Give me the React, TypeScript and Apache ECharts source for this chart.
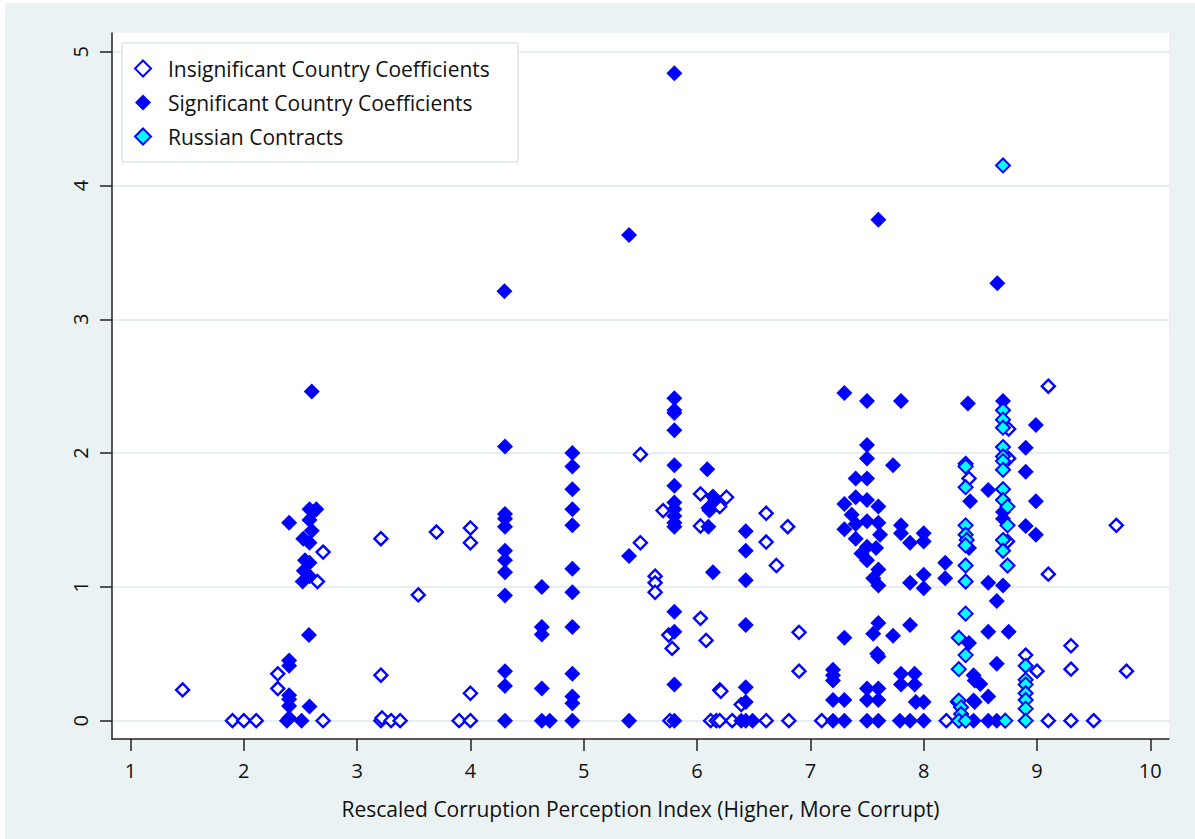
import React, { useEffect, useRef } from "react";
import * as echarts from "echarts";

const xTicks = [1, 2, 3, 4, 5, 6, 7, 8, 9, 10];
const yTicks = [0, 1, 2, 3, 4, 5];

const xTitle = "Rescaled Corruption Perception Index (Higher, More Corrupt)";
const seriesNames = [
  "Insignificant Country Coefficients",
  "Significant Country Coefficients",
  "Russian Contracts",
];

const insignificantPoints = [
  [1.46, 0.23], [1.9, 0], [2.0, 0], [2.11, 0], [2.3, 0.35], [2.3, 0.24], [2.7, 1.26], [2.65, 1.04], [2.7, 0],
  [3.21, 1.36], [3.21, 0.34], [3.21, 0], [3.22, 0.02], [3.3, 0], [3.38, 0], [3.54, 0.94], [3.7, 1.41],
  [4.0, 1.44], [4.0, 1.33], [4.0, 0.205], [3.9, 0], [4.0, 0],
  [5.5, 1.99], [5.5, 1.33], [5.63, 1.08], [5.63, 1.03], [5.63, 0.96], [5.7, 1.57], [5.75, 0.64], [5.78, 0.54], [5.76, 0],
  [6.03, 1.695], [6.26, 1.67], [6.2, 1.6], [6.03, 1.455], [6.03, 0.765], [6.08, 0.6], [6.2, 0.23], [6.21, 0.22],
  [6.39, 0.12], [6.61, 1.55], [6.61, 1.335], [6.8, 1.45], [6.7, 1.16], [6.9, 0.66], [6.9, 0.37],
  [6.12, 0], [6.17, 0], [6.2, 0], [6.31, 0], [6.61, 0], [6.81, 0], [7.1, 0],
  [8.4, 1.81], [8.2, 0], [8.3, 0.14], [8.75, 2.18], [8.75, 1.96], [8.74, 1.34], [9.1, 2.5], [9.1, 1.095],
  [9.7, 1.46], [9.3, 0.56], [8.9, 0.49], [9.0, 0.37], [9.3, 0.385], [9.79, 0.37], [9.1, 0], [9.3, 0], [9.5, 0],
];

const significantPoints = [
  [2.4, 1.48], [2.4, 0.45], [2.4, 0.41], [2.4, 0.19], [2.4, 0.16], [2.4, 0.11], [2.38, 0], [2.4, 0.02],
  [2.6, 2.46], [2.58, 1.58], [2.64, 1.58], [2.61, 1.56], [2.58, 1.5], [2.6, 1.42], [2.525, 1.36], [2.58, 1.33],
  [2.54, 1.2], [2.58, 1.18], [2.53, 1.12], [2.58, 1.08], [2.52, 1.04], [2.575, 0.64], [2.58, 0.105], [2.51, 0],
  [4.3, 3.21], [4.305, 2.05], [4.305, 1.545], [4.305, 1.51], [4.305, 1.45], [4.305, 1.27], [4.305, 1.2],
  [4.305, 1.11], [4.305, 0.935], [4.305, 0.37], [4.305, 0.26], [4.305, 0],
  [4.63, 1.0], [4.63, 0.7], [4.63, 0.645], [4.63, 0.24], [4.63, 0], [4.7, 0],
  [4.9, 2.0], [4.9, 1.9], [4.9, 1.73], [4.9, 1.58], [4.9, 1.46], [4.9, 1.135], [4.9, 0.96], [4.9, 0.7],
  [4.9, 0.35], [4.9, 0.18], [4.9, 0.13], [4.9, 0],
  [5.4, 3.63], [5.4, 1.23], [5.4, 0],
  [5.8, 4.84], [5.8, 2.41], [5.8, 2.32], [5.8, 2.3], [5.8, 2.17], [5.8, 1.91], [5.8, 1.755], [5.8, 1.63],
  [5.8, 1.58], [5.8, 1.53], [5.8, 1.48], [5.8, 1.45], [5.8, 0.815], [5.8, 0.665], [5.8, 0.27], [5.8, 0],
  [6.09, 1.88], [6.14, 1.675], [6.16, 1.65], [6.1, 1.59], [6.11, 1.57], [6.1, 1.45], [6.14, 1.11],
  [6.43, 1.415], [6.43, 1.27], [6.43, 1.05], [6.43, 0.715], [6.43, 0.25], [6.43, 0.14], [6.39, 0], [6.43, 0], [6.49, 0],
  [7.2, 0.38], [7.2, 0.34], [7.2, 0.3], [7.2, 0.155], [7.2, 0], [7.3, 0],
  [7.3, 2.45], [7.3, 1.62], [7.3, 1.43], [7.3, 0.62], [7.3, 0.155],
  [7.4, 1.81], [7.4, 1.67], [7.365, 1.54], [7.4, 1.47], [7.4, 1.36], [7.45, 1.25],
  [7.5, 2.39], [7.5, 2.06], [7.5, 1.96], [7.5, 1.81], [7.5, 1.65], [7.5, 1.49], [7.5, 1.3], [7.5, 1.2],
  [7.5, 0.24], [7.5, 0.155], [7.5, 0],
  [7.6, 3.745], [7.6, 1.6], [7.6, 1.48], [7.615, 1.39], [7.58, 1.29], [7.6, 1.13], [7.555, 1.065], [7.6, 1.01],
  [7.6, 0.73], [7.555, 0.65], [7.59, 0.5], [7.6, 0.48], [7.6, 0.24], [7.6, 0.155], [7.6, 0],
  [7.73, 1.91], [7.73, 0.635], [7.8, 2.39], [7.8, 1.46], [7.8, 1.4], [7.8, 0.35], [7.8, 0.27], [7.79, 0],
  [7.88, 1.33], [7.88, 1.03], [7.88, 0.715], [7.92, 0.35], [7.92, 0.27], [7.93, 0.14], [7.88, 0],
  [8.0, 1.4], [8.0, 1.34], [8.0, 1.09], [8.0, 0.99], [8.0, 0.14], [8.0, 0],
  [8.19, 1.18], [8.19, 1.065],
  [8.39, 2.37], [8.41, 1.64], [8.4, 1.29], [8.4, 0.58], [8.44, 0.34], [8.44, 0.15], [8.45, 0.3], [8.5, 0.275],
  [8.45, 0.14], [8.44, 0],
  [8.57, 1.725], [8.57, 1.03], [8.57, 0.665], [8.57, 0.18], [8.57, 0], [8.645, 0.895], [8.645, 0.425],
  [8.65, 3.27], [8.645, 0],
  [8.7, 2.39], [8.7, 1.56], [8.7, 1.51], [8.7, 1.01], [8.75, 0.665],
  [8.99, 2.21], [8.9, 2.04], [8.9, 1.86], [8.99, 1.64], [8.9, 1.455], [8.99, 1.39],
];

const russianPoints = [
  [8.7, 4.15], [8.37, 1.92], [8.37, 1.9], [8.37, 1.745], [8.37, 1.46], [8.37, 1.39], [8.38, 1.35], [8.37, 1.31],
  [8.37, 1.16], [8.37, 1.04], [8.37, 0.8], [8.31, 0.62], [8.37, 0.49], [8.31, 0.385], [8.31, 0.15], [8.33, 0.1],
  [8.33, 0.05], [8.31, 0], [8.37, 0],
  [8.7, 2.32], [8.7, 2.25], [8.7, 2.19], [8.7, 2.045], [8.7, 1.975], [8.7, 1.94], [8.7, 1.875], [8.7, 1.73],
  [8.7, 1.65], [8.74, 1.6], [8.74, 1.46], [8.7, 1.35], [8.7, 1.27], [8.74, 1.16], [8.72, 0],
  [8.9, 0.41], [8.9, 0.305], [8.9, 0.27], [8.9, 0.205], [8.9, 0.155], [8.9, 0.09], [8.9, 0],
];

const FONT = "'Open Sans', 'Noto Sans', sans-serif";
const BLUE = "#0000ff";

export default function App() {
  const ref = useRef<HTMLDivElement>(null);
  useEffect(() => {
    if (!ref.current) return;
    const chart = echarts.init(ref.current, undefined, { renderer: "svg" });
    chart.setOption({
      animation: false,
      backgroundColor: "#eaf2f3",
      textStyle: { fontFamily: FONT },
      grid: {
        left: 107,
        top: 30,
        width: 1057,
        height: 706,
        show: true,
        backgroundColor: "#ffffff",
        borderWidth: 0,
      },
      xAxis: {
        type: "value",
        min: 0.837,
        max: 10.165,
        name: xTitle,
        nameLocation: "middle",
        nameGap: 59,
        nameTextStyle: { fontSize: 21, color: "#111", fontFamily: FONT },
        axisLine: { show: true, onZero: false, lineStyle: { color: "#222", width: 1.5 } },
        axisTick: { show: true, length: 12, lineStyle: { color: "#222", width: 1.5 }, customValues: xTicks },
        axisLabel: { fontSize: 20, color: "#111", margin: 21, customValues: xTicks, fontFamily: FONT },
        splitLine: { show: false },
      },
      yAxis: {
        type: "value",
        min: -0.137,
        max: 5.14,
        axisLine: { show: true, onZero: false, lineStyle: { color: "#222", width: 1.5 } },
        axisTick: { show: true, length: 12, lineStyle: { color: "#222", width: 1.5 }, customValues: yTicks },
        axisLabel: { fontSize: 20, color: "#111", margin: 22, rotate: 90, customValues: yTicks, fontFamily: FONT },
        splitLine: { show: true, lineStyle: { color: "#e5eef0", width: 2 } },
      },
      graphic: [
        {
          type: "rect",
          z: 3,
          shape: { x: 117, y: 40, width: 396, height: 119 },
          style: { fill: "#ffffff", stroke: "#dbe6e9", lineWidth: 1.5 },
        },
      ],
      legend: {
        orient: "vertical",
        left: 129,
        top: 55,
        padding: 0,
        itemWidth: 16,
        itemHeight: 16,
        itemGap: 13,
        selectedMode: false,
        symbolKeepAspect: true,
        textStyle: { fontSize: 21, color: "#111", fontFamily: FONT, lineHeight: 20, padding: [0, 0, 0, 12] },
        data: seriesNames,
        z: 5,
      },
      series: [
        {
          name: seriesNames[0],
          type: "scatter",
          symbol: "diamond",
          symbolSize: 13,
          itemStyle: { color: "#ffffff", borderColor: BLUE, borderWidth: 2.4, opacity: 1 },
          data: insignificantPoints,
          z: 2,
        },
        {
          name: seriesNames[1],
          type: "scatter",
          symbol: "diamond",
          symbolSize: 16,
          itemStyle: { color: BLUE, opacity: 1 },
          data: significantPoints,
          z: 2,
        },
        {
          name: seriesNames[2],
          type: "scatter",
          symbol: "diamond",
          symbolSize: 14,
          itemStyle: { color: "#00ffff", borderColor: BLUE, borderWidth: 2, opacity: 1 },
          data: russianPoints,
          z: 2,
        },
      ],
    });
    return () => chart.dispose();
  }, []);
  return (
    <div style={{ position: "fixed", left: 0, top: 0, width: 1195, height: 839, background: "#ffffff" }}>
      <div ref={ref} style={{ position: "absolute", left: 5, top: 3, width: 1190, height: 836 }} />
    </div>
  );
}
